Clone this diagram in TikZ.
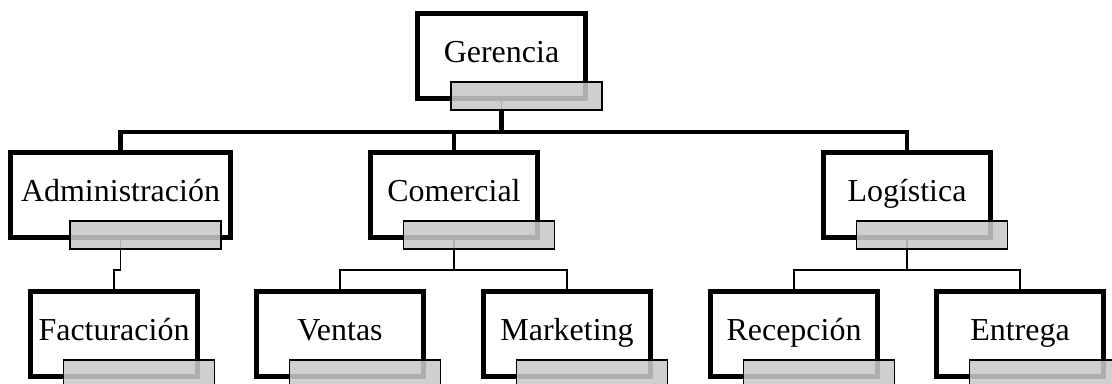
\documentclass[tikz,border=0pt]{standalone}
\usepackage{fontspec}
\setmainfont{Liberation Serif}
\usetikzlibrary{backgrounds}
\begin{document}
\begin{tikzpicture}
    [
        x=0.02cm, y=-0.02cm,
        unit/.style={rectangle, draw, line width=0.1cm, minimum width=3.36cm,
            minimum height=1.7cm, inner sep=0pt, text height=11pt, text depth=3.5pt,
            font=\fontsize{18.2}{21}\selectfont},
        tab/.style={rectangle, draw, line width=0.035cm, fill=black!21,
            fill opacity=0.87, minimum width=3.02cm, minimum height=0.56cm, inner sep=0pt},
        bus/.style={line width=0.09cm},
        link/.style={line width=0.034cm},
    ]
    \useasboundingbox (0,0) rectangle (1112,383);
    \coordinate (bus) at (0,132);
    \coordinate (lvl) at (0,270);
    % top and middle row
    \node (ger) at (501.5,56) [unit] {Gerencia};
    \node (adm) at (120.5,195) [unit, minimum width=4.4cm] {Administración};
    \node (com) at (454,195) [unit] {Comercial};
    \node (log) at (907,195) [unit] {Logística};
    % bottom row
    \node (fac) at (114,334) [unit] {Facturación};
    \node (ven) at (340,334) [unit] {Ventas};
    \node (mkt) at (567,334) [unit] {Marketing};
    \node (rec) at (794,334) [unit] {Recepción};
    \node (ent) at (1020,334) [unit] {Entrega};
    % grey tabs
    \node (gert) at ([shift={(25,-5)}]ger.south) [tab] {};
    \node (admt) at ([shift={(25,-5)}]adm.south) [tab] {};
    \node (comt) at ([shift={(25,-5)}]com.south) [tab] {};
    \node (logt) at ([shift={(25,-5)}]log.south) [tab] {};
    \node (fact) at ([shift={(25,-5)}]fac.south) [tab] {};
    \node (vent) at ([shift={(25,-5)}]ven.south) [tab] {};
    \node (mktt) at ([shift={(25,-5)}]mkt.south) [tab] {};
    \node (rect) at ([shift={(25,-5)}]rec.south) [tab] {};
    \node (entt) at ([shift={(25,-5)}]ent.south) [tab] {};
    \begin{pgfonlayer}{background}
        \fill [white] (0,0) rectangle (1112,383);
        \draw [link] (ger.south) -- (ger.south |- gert.south);
        \draw [bus] (ger.south |- gert.south) -- (ger.south |- bus);
        \draw [bus] (adm.north) |- (log.north |- bus) -- (log.north);
        \draw [bus] (com.north) -- (com.north |- bus);
        \draw [link] (adm.south) -- (adm.south |- lvl) -| (fac.north);
        \draw [link] (com.south) -- (com.south |- lvl);
        \draw [link] (ven.north) |- (mkt.north |- lvl) -- (mkt.north);
        \draw [link] (log.south) -- (log.south |- lvl);
        \draw [link] (rec.north) |- (ent.north |- lvl) -- (ent.north);
    \end{pgfonlayer}
\end{tikzpicture}
\end{document}
